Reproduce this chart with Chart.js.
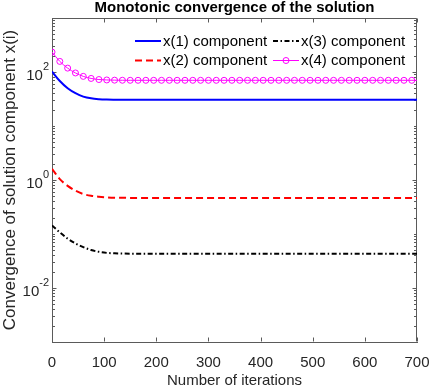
<!DOCTYPE html>
<html><head><meta charset="utf-8">
<script src="https://cdn.jsdelivr.net/npm/chart.js@4/dist/chart.umd.min.js"></script>
<style>html,body{margin:0;padding:0;background:#fff}#wrap{width:429px;height:388px;position:relative}</style>
</head><body><div id="wrap"><canvas id="c"></canvas></div>
<script>
// ---- data ----
const iterations = [0,15,30,45,60,75,90,105,120,135,150,165,180,195,210,225,240,255,270,285,300,315,330,345,360,375,390,405,420,435,450,465,480,495,510,525,540,555,570,585,600,615,630,645,660,675,690,700];
const x1Values = [102,68,50,40.5,35,32.5,31.4,30.9,30.7,30.6,30.5,30.5,30.5,30.5,30.5,30.5,30.5,30.5,30.5,30.5,30.5,30.5,30.5,30.5,30.5,30.5,30.5,30.5,30.5,30.5,30.5,30.5,30.5,30.5,30.5,30.5,30.5,30.5,30.5,30.5,30.5,30.5,30.5,30.5,30.5,30.5,30.5,30.5];
const x2Values = [1.61,1.04,0.78,0.635,0.55,0.51,0.49,0.478,0.471,0.468,0.466,0.466,0.466,0.466,0.466,0.466,0.466,0.466,0.466,0.466,0.466,0.466,0.466,0.466,0.466,0.466,0.466,0.466,0.466,0.466,0.466,0.466,0.466,0.466,0.466,0.466,0.466,0.466,0.466,0.466,0.466,0.466,0.466,0.466,0.466,0.466,0.466,0.466];
const x3Values = [0.144,0.107,0.082,0.067,0.057,0.0505,0.0467,0.0447,0.0438,0.0434,0.0432,0.0432,0.0432,0.0432,0.0432,0.0432,0.0432,0.0432,0.0432,0.0432,0.0432,0.0432,0.0432,0.0432,0.0432,0.0432,0.0432,0.0432,0.0432,0.0432,0.0432,0.0432,0.0432,0.0432,0.0432,0.0432,0.0432,0.0432,0.0432,0.0432,0.0432,0.0432,0.0432,0.0432,0.0432,0.0432,0.0432,0.0432];
const x4Values = [234,157,118,96,83,76,72.5,71.2,70.6,70.3,70.2,70.2,70.2,70.2,70.2,70.2,70.2,70.2,70.2,70.2,70.2,70.2,70.2,70.2,70.2,70.2,70.2,70.2,70.2,70.2,70.2,70.2,70.2,70.2,70.2,70.2,70.2,70.2,70.2,70.2,70.2,70.2,70.2,70.2,70.2,70.2,70.2,70.2];
const seriesLabels = ['x(1) component','x(2) component','x(3) component','x(4) component'];
const xTickValues = [0,100,200,300,400,500,600,700];
const yLabelExponents = [-2,0,2];
const titleText = 'Monotonic convergence of the solution';
const xTitle = 'Number of iterations';
const yTitle = 'Convergence of solution component x(i)';

const FAM = '"Liberation Sans", Arial, Helvetica, sans-serif';
const AXIS = '#5a5a5a';
const TXT = '#262626';

const toPts = vals => iterations.map((x, i) => ({x, y: vals[i]}));

const datasets = [
  {label: seriesLabels[0], data: toPts(x1Values), borderColor:'#0000ff', borderWidth:2, pointRadius:0},
  {label: seriesLabels[1], data: toPts(x2Values), borderColor:'#ff0000', borderWidth:2, borderDash:[7,4], pointRadius:0},
  {label: seriesLabels[2], data: toPts(x3Values), borderColor:'#000000', borderWidth:2, borderDash:[5,2.5,1.5,2.5], pointRadius:0},
  {label: seriesLabels[3], data: toPts(x4Values), borderColor:'#ff00ff', borderWidth:1,
   pointStyle:'circle', pointBorderColor:'#ff00ff', pointBackgroundColor:'rgba(0,0,0,0)', pointBorderWidth:1,
   pointRadius: ctx => (iterations[ctx.dataIndex] % 15 === 0 ? 3 : 0)}
].map(d => Object.assign({fill:false, cubicInterpolationMode:'monotone', backgroundColor:d.borderColor}, d));

const framePlugin = {
  id: 'frame',
  beforeDatasetsDraw(chart) {
    const {ctx, chartArea: a, scales: {x, y}} = chart;
    ctx.save();
    ctx.strokeStyle = AXIS; ctx.lineWidth = 1;
    const L = Math.round(a.left) + 0.5, R = Math.round(a.right) - 0.5;
    const T = Math.round(a.top) + 0.5, B = Math.round(a.bottom) - 0.5;
    ctx.beginPath();
    ctx.moveTo(L, T); ctx.lineTo(R, T); ctx.lineTo(R, B);
    xTickValues.forEach(v => {
      const px = Math.round(x.getPixelForValue(v)) + 0.5;
      ctx.moveTo(px, B); ctx.lineTo(px, B - 4);
      ctx.moveTo(px, T); ctx.lineTo(px, T + 4);
    });
    for (let e = -3; e <= 3; e++) {
      for (let m = 1; m <= 9; m++) {
        if (e === 3 && m > 1) break;
        const v = m * Math.pow(10, e);
        const py = Math.round(y.getPixelForValue(v)) + 0.5;
        const len = (m === 1 && yLabelExponents.includes(e)) ? 4 : 2.5;
        ctx.moveTo(L, py); ctx.lineTo(L + len, py);
        ctx.moveTo(R, py); ctx.lineTo(R - len, py);
      }
    }
    ctx.stroke();
    ctx.fillStyle = TXT;
    ctx.textAlign = 'right';
    ctx.textBaseline = 'middle';
    yLabelExponents.forEach(e => {
      const py = y.getPixelForValue(Math.pow(10, e));
      const ex = String(e);
      const xr = a.left - 3;
      ctx.font = '11px ' + FAM;
      const ew = ctx.measureText(ex).width;
      ctx.fillText(ex, xr, py - 5);
      ctx.font = '15px ' + FAM;
      ctx.fillText('10', xr - ew, py + 3.5);
    });
    ctx.restore();
  },
  afterDatasetsDraw(chart) {
    const {ctx} = chart;
    const ds = chart.data.datasets;
    const items = [
      {i:0, lx:135, ly:41}, {i:1, lx:135, ly:60.5},
      {i:2, lx:273, ly:41}, {i:3, lx:273, ly:60.5}
    ];
    ctx.save();
    items.forEach(it => {
      const d = ds[it.i];
      ctx.strokeStyle = d.borderColor;
      ctx.lineWidth = d.borderWidth;
      ctx.setLineDash(d.borderDash || []);
      ctx.beginPath();
      ctx.moveTo(it.lx, it.ly); ctx.lineTo(it.lx + 26, it.ly);
      ctx.stroke();
      ctx.setLineDash([]);
      if (it.i === 3) {
        ctx.lineWidth = 1;
        ctx.beginPath(); ctx.arc(it.lx + 13, it.ly, 3, 0, Math.PI * 2); ctx.stroke();
      }
      ctx.fillStyle = '#000';
      ctx.font = '15px ' + FAM;
      ctx.textAlign = 'left';
      ctx.textBaseline = 'middle';
      ctx.fillText(d.label, it.lx + 28, it.ly + 0.5);
    });
    ctx.restore();
  }
};

new Chart(document.getElementById('c'), {
  type: 'line',
  data: {datasets},
  options: {
    responsive: true, maintainAspectRatio: false, animation: false,
    layout: {padding: {top: 0, right: 0, bottom: 0, left: 0}},
    plugins: {
      legend: {display: false}, tooltip: {enabled: false},
      title: {display: true, text: titleText, color: '#000', fullSize: false,
              font: {family: FAM, size: 15, weight: 'bold', lineHeight: 1}, padding: {top: 0, bottom: 3}}
    },
    scales: {
      x: {type: 'linear', min: 0, max: 700,
          grid: {display: false, drawTicks: false},
          border: {display: true, color: AXIS, width: 1},
          ticks: {stepSize: 100, color: TXT, font: {family: FAM, size: 15, lineHeight: 1}, padding: 13, maxRotation: 0},
          title: {display: true, text: xTitle, color: TXT, font: {family: FAM, size: 15, lineHeight: 1}, padding: {top: 0, bottom: 0}},
          afterFit(s) { s.height = 46; s.paddingRight = 12; s.paddingLeft = 0; }},
      y: {type: 'logarithmic', min: 1e-3, max: 1e3,
          grid: {display: false, drawTicks: false},
          border: {display: true, color: AXIS, width: 1},
          ticks: {display: false},
          title: {display: true, text: yTitle, color: TXT, font: {family: FAM, size: 17}, padding: {top: 0, bottom: 0}},
          afterFit(s) { s.width = 52; }}
    }
  },
  plugins: [framePlugin]
});
</script></body></html>
